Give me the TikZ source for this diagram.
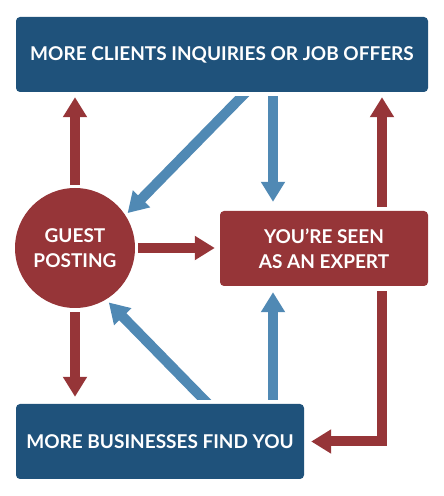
\documentclass[tikz,border=0pt]{standalone}
\usepackage{fontspec}
\setmainfont{Lato}
\usetikzlibrary{arrows.meta,calc}
\definecolor{darkblue}{HTML}{1F527B}
\definecolor{lightblue}{HTML}{5089B4}
\definecolor{darkred}{HTML}{963538}
\tikzset{
    box/.style={fill=#1, rounded corners=4pt, text=white, align=center,
        font=\fontsize{19}{25}\selectfont\bfseries, minimum height=75pt, inner sep=0pt},
    bubble/.style={circle, fill=darkred, text=white, align=center,
        font=\fontsize{19}{25}\selectfont\bfseries, minimum size=120pt, inner sep=0pt},
    flow/.style={line width=10pt, draw=#1, -{Triangle[width=23pt,length=20pt]}},
}
\begin{document}
\begin{tikzpicture}[x=1pt,y=1pt]
    \useasboundingbox (0,0) rectangle (444,496);

    \node[box=darkblue, minimum width=412pt] (clients) at (222,441.5) {MORE CLIENTS INQUIRIES OR JOB OFFERS};
    \node[bubble] (guest) at (75,248) {GUEST\\POSTING};
    \node[box=darkred, minimum width=208pt] (expert) at (324,247.5) {YOU’RE SEEN\\AS AN EXPERT};
    \node[box=darkblue, minimum width=288pt] (business) at (160,54.5) {MORE BUSINESSES FIND YOU};

    % red arrows
    \draw[flow=darkred, shorten <=3pt, shorten >=5pt] (guest.north) -- (guest.north |- clients.south);
    \draw[flow=darkred, shorten <=3pt, shorten >=5pt] (guest.east) -- (guest.east -| expert.west);
    \draw[flow=darkred, shorten <=4pt, shorten >=7pt] (guest.south) -- (guest.south |- business.north);
    \draw[flow=darkred, shorten <=4pt, shorten >=5pt] ([xshift=58pt]expert.north) -- ([xshift=58pt]expert.north |- clients.south);
    \draw[flow=darkred, shorten <=5pt, shorten >=7pt] ([xshift=58pt]expert.south) |- (business.east);

    % blue arrows, the slanted ones cut flat near the boxes
    \begin{scope}
        \clip ([yshift=4pt]business.north -| 0,0) rectangle ([yshift=-4pt]clients.south -| 444,0);
        \draw[flow=lightblue, shorten >=3pt] ($(clients.south)+(24pt,0)$) -- (guest.33);
        \draw[flow=lightblue, shorten >=4pt] ($(business.north)+(48pt,0)$) -- (guest.-59);
    \end{scope}
    \draw[flow=lightblue, shorten <=4pt, shorten >=9pt] ([xshift=-51pt]expert.north |- clients.south) -- ([xshift=-51pt]expert.north);
    \draw[flow=lightblue, shorten <=4pt, shorten >=6pt] ([xshift=-51pt]expert.south |- business.north) -- ([xshift=-51pt]expert.south);
\end{tikzpicture}
\end{document}
